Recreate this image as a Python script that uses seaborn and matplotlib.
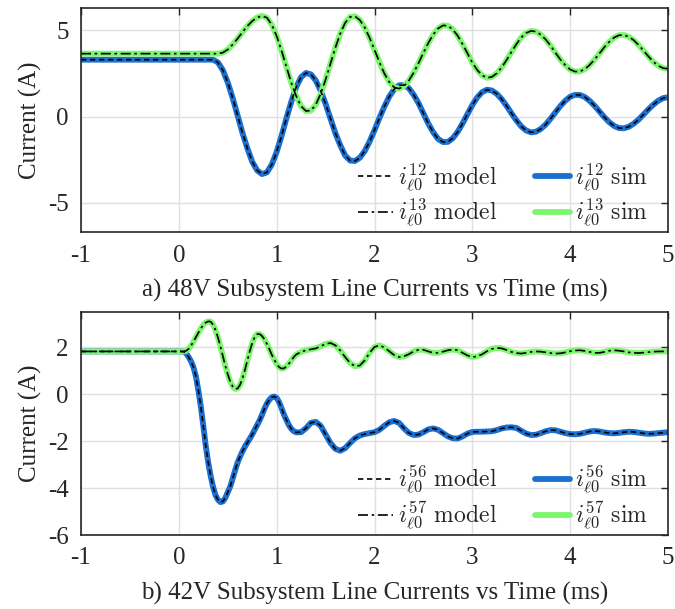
import numpy as np
import pandas as pd
import matplotlib
matplotlib.use("Agg")
import matplotlib.pyplot as plt
import seaborn as sns

# ---------------- data ----------------
# panel a) time grid (ms)
t_a = [-1.0] + [round(0.05 * k, 2) for k in range(101)]
i12 = [3.30,
       3.30, 3.30, 3.30, 3.30, 3.30, 3.30, 3.30, 3.30,
       3.14, 2.69, 1.98, 1.08, 0.08, -0.94, -1.84, -2.62, -3.12, -3.34,
       -3.24, -2.79, -2.05, -1.12, -0.10, 0.87, 1.72, 2.29, 2.53,
       2.45, 2.09, 1.49, 0.74, -0.12, -0.96, -1.67, -2.26, -2.55,
       -2.58, -2.39, -2.00, -1.45, -0.79, -0.09, 0.57, 1.15, 1.58, 1.81,
       1.83, 1.65, 1.27, 0.78, 0.18, -0.41, -0.91, -1.30, -1.48,
       -1.47, -1.26, -0.89, -0.40, 0.14, 0.67, 1.11, 1.42, 1.56,
       1.51, 1.32, 1.01, 0.62, 0.19, -0.22, -0.57, -0.81, -0.92,
       -0.88, -0.72, -0.46, -0.12, 0.25, 0.61, 0.92, 1.15, 1.26,
       1.25, 1.13, 0.91, 0.62, 0.29, -0.04, -0.33, -0.55, -0.67,
       -0.68, -0.59, -0.41, -0.17, 0.12, 0.42, 0.69, 0.92, 1.07, 1.12]
i13 = [3.65,
       3.65, 3.65, 3.65, 3.65, 3.65, 3.65, 3.65, 3.65, 3.65,
       3.71, 3.89, 4.18, 4.52, 4.89, 5.25, 5.54, 5.75, 5.84,
       5.74, 5.33, 4.67, 3.82, 2.88, 1.95, 1.18, 0.60, 0.32,
       0.35, 0.69, 1.32, 2.14, 3.07, 4.00, 4.81, 5.44, 5.78,
       5.82, 5.60, 5.17, 4.57, 3.87, 3.16, 2.51, 2.01, 1.70,
       1.62, 1.76, 2.08, 2.54, 3.10, 3.70, 4.27, 4.76, 5.11, 5.29,
       5.27, 5.06, 4.69, 4.20, 3.67, 3.13, 2.70, 2.39, 2.25,
       2.30, 2.51, 2.85, 3.28, 3.75, 4.20, 4.59, 4.85, 4.97,
       4.93, 4.75, 4.47, 4.11, 3.70, 3.31, 2.98, 2.73, 2.61,
       2.62, 2.75, 3.00, 3.31, 3.67, 4.03, 4.34, 4.59, 4.72,
       4.73, 4.63, 4.43, 4.15, 3.82, 3.49, 3.18, 2.95, 2.81, 2.77]

# panel b) time grid (ms)
t_b = ([-1.0] + [round(0.025 * k, 3) for k in range(49)]
       + [round(1.25 + 0.05 * k, 2) for k in range(76)])
i56 = [1.82,
       1.82, 1.82, 1.81, 1.74, 1.58, 1.40, 1.14, 0.75, 0.15, -0.54,
       -1.35, -2.20, -2.90, -3.48, -3.95, -4.30, -4.50, -4.60, -4.57, -4.42,
       -4.18, -3.94, -3.60, -3.25, -2.92, -2.67, -2.44, -2.24, -2.07, -1.90,
       -1.72, -1.52, -1.32, -1.12, -0.88, -0.62, -0.40, -0.24, -0.13, -0.10,
       -0.16, -0.34, -0.60, -0.88, -1.10, -1.32, -1.48, -1.58, -1.63,
       -1.62, -1.45, -1.22, -1.18, -1.35, -1.72, -2.08, -2.33, -2.41, -2.30,
       -2.08, -1.88, -1.76, -1.70, -1.66, -1.62, -1.52, -1.35, -1.20, -1.14,
       -1.22, -1.45, -1.65, -1.74, -1.72, -1.62, -1.50, -1.46, -1.52, -1.66,
       -1.80, -1.88, -1.89, -1.80, -1.68, -1.61, -1.60, -1.60, -1.59, -1.58,
       -1.53, -1.46, -1.42, -1.41, -1.44, -1.56, -1.68, -1.74, -1.73, -1.66,
       -1.58, -1.53, -1.54, -1.60, -1.66, -1.70, -1.71, -1.69, -1.64, -1.59,
       -1.57, -1.59, -1.63, -1.66, -1.67, -1.65, -1.62, -1.60, -1.61, -1.64,
       -1.67, -1.69, -1.68, -1.66, -1.64, -1.62]
i57 = [1.82,
       1.82, 1.82, 1.82, 1.85, 1.93, 2.07, 2.24, 2.43, 2.62, 2.80,
       2.95, 3.05, 3.10, 3.09, 2.96, 2.73, 2.41, 2.04, 1.62, 1.21,
       0.85, 0.54, 0.33, 0.22, 0.24, 0.39, 0.67, 1.02, 1.43, 1.83,
       2.17, 2.43, 2.56, 2.56, 2.48, 2.34, 2.14, 1.92, 1.68, 1.47,
       1.28, 1.15, 1.09, 1.10, 1.18, 1.30, 1.44, 1.58, 1.69,
       1.80, 1.87, 1.91, 1.95, 2.04, 2.14, 2.18, 2.08, 1.86, 1.58,
       1.33, 1.19, 1.22, 1.44, 1.76, 2.01, 2.08, 1.99, 1.83, 1.67,
       1.58, 1.61, 1.70, 1.82, 1.89, 1.89, 1.82, 1.76, 1.76, 1.81,
       1.87, 1.90, 1.87, 1.76, 1.65, 1.58, 1.61, 1.70, 1.83, 1.93,
       1.97, 1.95, 1.88, 1.80, 1.75, 1.73, 1.76, 1.80, 1.82, 1.81,
       1.78, 1.75, 1.73, 1.74, 1.78, 1.83, 1.86, 1.87, 1.84, 1.80,
       1.76, 1.76, 1.80, 1.85, 1.87, 1.85, 1.82, 1.78, 1.76, 1.75,
       1.77, 1.79, 1.81, 1.82, 1.82, 1.82]

xticks = [-1, 0, 1, 2, 3, 4, 5]
yticks_a = [-5, 0, 5]
yticks_b = [-6, -4, -2, 0, 2]
captions = ["a) 48V Subsystem Line Currents vs Time (ms)",
            "b) 42V Subsystem Line Currents vs Time (ms)"]
names_a = ["12", "13"]
names_b = ["56", "57"]

BLUE = "#1a6fd0"
GREEN = "#7df56e"

# ---------------- style ----------------
sns.set_theme(style="whitegrid")
plt.rcParams.update({
    "font.family": ["Liberation Serif", "DejaVu Serif"],
    "mathtext.fontset": "cm",
    "axes.unicode_minus": False,
    "axes.edgecolor": "#262626",
    "axes.linewidth": 1.2,
    "grid.color": "#e0e0e0",
    "grid.linewidth": 1.0,
    "xtick.direction": "in",
    "ytick.direction": "in",
    "xtick.top": True,
    "ytick.right": True,
    "xtick.major.size": 5,
    "ytick.major.size": 5,
    "xtick.major.width": 1.0,
    "ytick.major.width": 1.0,
    "xtick.color": "#262626",
    "ytick.color": "#262626",
    "xtick.labelcolor": "#262626",
    "ytick.labelcolor": "#262626",
    "axes.labelcolor": "#262626",
})

fig = plt.figure(figsize=(6.75, 6.09), dpi=100)
ax_a = fig.add_axes([81 / 675, 1 - 232 / 609, 587 / 675, 224 / 609])
ax_b = fig.add_axes([81 / 675, 1 - 535 / 609, 587 / 675, 223 / 609])


def draw(ax, t, s1, s2, names, yticks, ylim, caption):
    df = pd.DataFrame({"t": t, "s1": s1, "s2": s2})
    sns.lineplot(data=df, x="t", y="s1", ax=ax, color=BLUE, lw=4.2,
                 estimator=None, sort=False)
    sns.lineplot(data=df, x="t", y="s2", ax=ax, color=GREEN, lw=4.2,
                 estimator=None, sort=False)
    sns.lineplot(data=df, x="t", y="s1", ax=ax, color="black", lw=1.2,
                 estimator=None, sort=False, linestyle=(0, (3.2, 2.2)))
    sns.lineplot(data=df, x="t", y="s2", ax=ax, color="black", lw=1.2,
                 estimator=None, sort=False, linestyle=(0, (6, 2.2, 1.5, 2.2)))
    lines = ax.get_lines()
    labels = [rf"$i^{{{names[0]}}}_{{\ell0}}\ \mathrm{{model}}$",
              rf"$i^{{{names[1]}}}_{{\ell0}}\ \mathrm{{model}}$",
              rf"$i^{{{names[0]}}}_{{\ell0}}\ \mathrm{{sim}}$",
              rf"$i^{{{names[1]}}}_{{\ell0}}\ \mathrm{{sim}}$"]
    handles = [lines[2], lines[3], lines[0], lines[1]]
    ax.legend(handles, labels, ncol=2, loc="lower right",
              bbox_to_anchor=(0.982, -0.03), frameon=False,
              fontsize=17, handlelength=1.5, handletextpad=0.2,
              columnspacing=1.6, labelspacing=0.15, borderaxespad=0)
    ax.set_xlim(-1, 5)
    ax.set_ylim(*ylim)
    ax.set_xticks(xticks)
    ax.set_yticks(yticks)
    ax.tick_params(axis="x", labelsize=18, pad=9)
    ax.tick_params(axis="y", labelsize=18, pad=9)
    ax.set_xlabel(caption, fontsize=18, labelpad=9)
    ax.set_ylabel("Current (A)", fontsize=18, labelpad=4)
    ax.grid(True)
    for sp in ax.spines.values():
        sp.set_visible(True)
        sp.set_color("#262626")


draw(ax_a, t_a, i12, i13, names_a, yticks_a, (-6.7, 6.3), captions[0])
draw(ax_b, t_b, i56, i57, names_b, yticks_b, (-6.0, 3.5), captions[1])

fig.savefig("out.png", dpi=100)
